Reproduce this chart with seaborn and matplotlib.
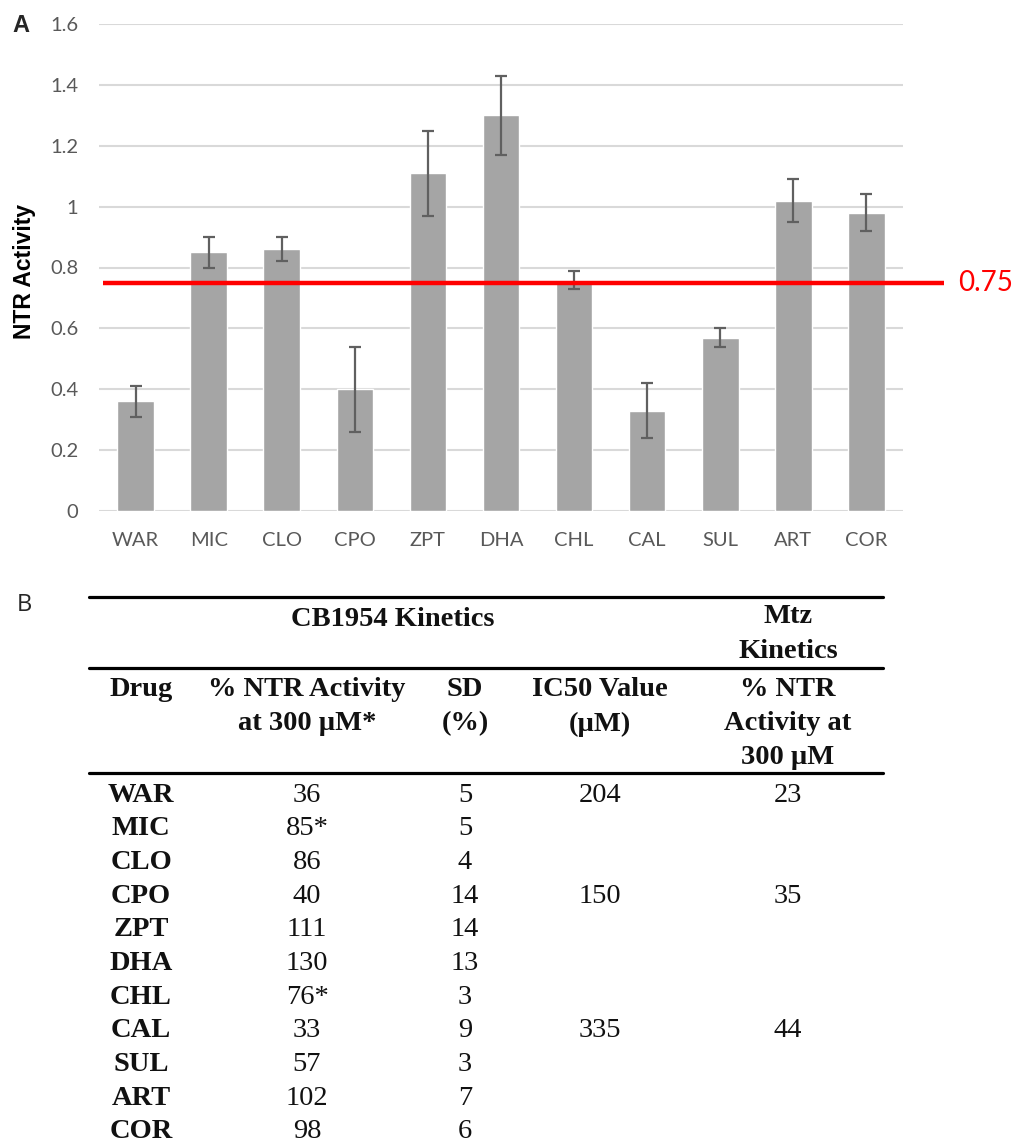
import matplotlib
matplotlib.use("Agg")
import matplotlib.pyplot as plt
import matplotlib.ticker as mticker
import seaborn as sns
import pandas as pd

# ---------------- data ----------------
drugs = ["WAR", "MIC", "CLO", "CPO", "ZPT", "DHA", "CHL", "CAL", "SUL", "ART", "COR"]
pct_activity = [36, 85, 86, 40, 111, 130, 76, 33, 57, 102, 98]
sd_pct = [5, 5, 4, 14, 14, 13, 3, 9, 3, 7, 6]
starred = ["MIC", "CHL"]
ic50_values = ["204", "", "", "150", "", "", "", "335", "", "", ""]
mtz_activity = ["23", "", "", "35", "", "", "", "44", "", "", ""]
threshold = 0.75
y_ticks = [0, 0.2, 0.4, 0.6, 0.8, 1.0, 1.2, 1.4, 1.6]

activity = [v / 100 for v in pct_activity]
sd = [v / 100 for v in sd_pct]
df = pd.DataFrame({"drug": drugs, "activity": activity, "sd": sd})

# ---------------- figure ----------------
W, H = 1015, 1145
sns.set_theme(style="white")
plt.rcParams["font.family"] = ["Lato", "DejaVu Sans"]

fig = plt.figure(figsize=(W / 100, H / 100), dpi=100)


def fx(x):
    return x / W


def fy(y):
    return 1 - y / H


ax_l, ax_r, ax_t, ax_b = 99, 903, 24, 511
ax = fig.add_axes([fx(ax_l), fy(ax_b), (ax_r - ax_l) / W, (ax_b - ax_t) / H])

sns.barplot(data=df, x="drug", y="activity", color="#a5a5a5", saturation=1,
            width=0.5, errorbar=None, ax=ax, zorder=2)
ax.errorbar(range(len(drugs)), df["activity"], yerr=df["sd"], fmt="none",
            ecolor="#606060", elinewidth=1.6, capsize=4, capthick=1.6, zorder=3)

ax.set_ylim(0, 1.6)
ax.set_xlim(-0.5, len(drugs) - 0.5)
ax.set_yticks(y_ticks)
ax.yaxis.set_major_formatter(mticker.FuncFormatter(lambda v, p: f"{v:g}"))
ax.grid(axis="y", color="#d9d9d9", linewidth=1.5, zorder=0)
ax.grid(axis="x", visible=False)
ax.set_axisbelow(True)
for s in ax.spines.values():
    s.set_visible(False)
ax.tick_params(axis="both", length=0, labelsize=14.5, labelcolor="#595959")
ax.tick_params(axis="x", pad=15)
ax.tick_params(axis="y", pad=15)
ax.set_xlabel("")
ax.set_ylabel("")
bold_sans = ["Liberation Sans", "DejaVu Sans"]
fig.text(fx(25), fy(271), "NTR Activity", rotation=90, ha="center", va="center",
         fontsize=16.5, fontweight="bold", color="black", family=bold_sans)

# threshold line
trans = ax.get_yaxis_transform()
ax.plot([(103 - ax_l) / (ax_r - ax_l), (944 - ax_l) / (ax_r - ax_l)], [threshold, threshold],
        transform=trans, color="#ff0000", linewidth=3.2, clip_on=False, zorder=4,
        solid_capstyle="butt")
ax.text((958 - ax_l) / (ax_r - ax_l), threshold, f"{threshold:.2f}", transform=trans,
        color="#ff0000", fontsize=20, ha="left", va="center")

fig.text(fx(12), fy(25), "A", fontsize=17, fontweight="bold", ha="left", va="center",
         family=bold_sans)
fig.text(fx(17), fy(605), "B", fontsize=17, fontweight="normal", ha="left", va="center",
         family=["Open Sans", "DejaVu Sans"])

# ---------------- table ----------------
serif = ["Liberation Serif", "DejaVu Serif"]
fs = 20.5
rule_x0, rule_x1 = 89, 883
for ry in (597, 668, 773):
    fig.add_artist(plt.Line2D([fx(rule_x0), fx(rule_x1)], [fy(ry), fy(ry)],
                              color="black", linewidth=2.3))

col_x = [141, 307, 465, 600, 788]


def ttext(x, y, s, bold=False):
    fig.text(fx(x), fy(y), s, family=serif, fontsize=fs,
             fontweight="bold" if bold else "normal", ha="center", va="center",
             color="#111111")


ttext(393, 619, "CB1954 Kinetics", bold=True)
ttext(col_x[4], 617, "Mtz", bold=True)
ttext(col_x[4], 651, "Kinetics", bold=True)

ttext(col_x[0], 690, "Drug", bold=True)
ttext(col_x[1], 690, "% NTR Activity", bold=True)
ttext(col_x[1], 724, "at 300 µM*", bold=True)
ttext(col_x[2], 690, "SD", bold=True)
ttext(col_x[2], 724, "(%)", bold=True)
ttext(col_x[3], 690, "IC50 Value", bold=True)
ttext(col_x[3], 724, "(µM)", bold=True)
ttext(col_x[4], 690, "% NTR", bold=True)
ttext(col_x[4], 723, "Activity at", bold=True)
ttext(col_x[4], 757, "300 µM", bold=True)

row0, dy = 795, 33.7
for i, d in enumerate(drugs):
    y = row0 + i * dy
    ttext(col_x[0], y, d, bold=True)
    ttext(col_x[1], y, f"{pct_activity[i]}" + ("*" if d in starred else ""))
    ttext(col_x[2], y, f"{sd_pct[i]}")
    if ic50_values[i]:
        ttext(col_x[3], y, ic50_values[i])
    if mtz_activity[i]:
        ttext(col_x[4], y, mtz_activity[i])

fig.savefig("out.png", dpi=100)
